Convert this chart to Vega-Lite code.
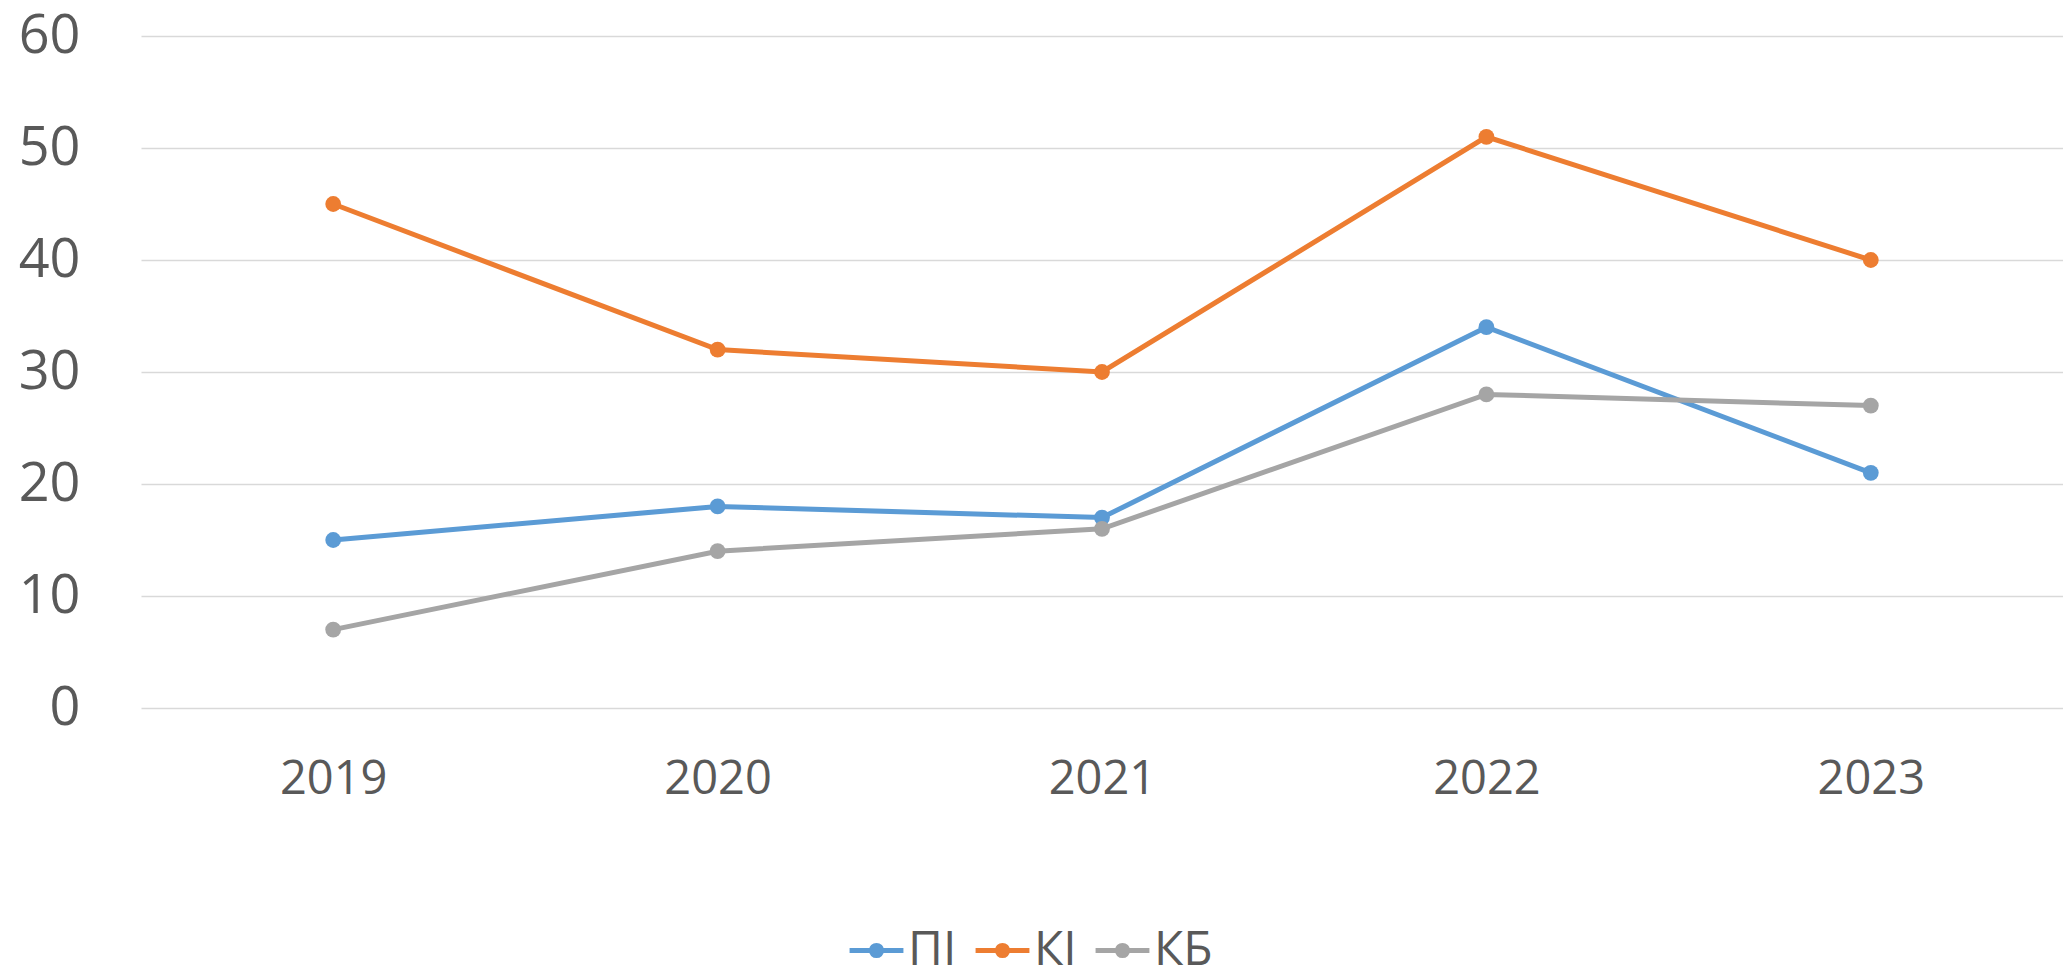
{
  "$schema": "https://vega.github.io/schema/vega-lite/v6.json",
  "width": 1922,
  "height": 672,
  "autosize": {"type": "none"},
  "padding": {"left": 141, "top": 36, "right": 0, "bottom": 271},
  "background": "white",
  "config": {
    "view": {"stroke": null},
    "font": "Open Sans"
  },
  "data": {
    "values": [
      {"year": "2019", "series": "ПІ", "value": 15},
      {"year": "2020", "series": "ПІ", "value": 18},
      {"year": "2021", "series": "ПІ", "value": 17},
      {"year": "2022", "series": "ПІ", "value": 34},
      {"year": "2023", "series": "ПІ", "value": 21},
      {"year": "2019", "series": "КІ", "value": 45},
      {"year": "2020", "series": "КІ", "value": 32},
      {"year": "2021", "series": "КІ", "value": 30},
      {"year": "2022", "series": "КІ", "value": 51},
      {"year": "2023", "series": "КІ", "value": 40},
      {"year": "2019", "series": "КБ", "value": 7},
      {"year": "2020", "series": "КБ", "value": 14},
      {"year": "2021", "series": "КБ", "value": 16},
      {"year": "2022", "series": "КБ", "value": 28},
      {"year": "2023", "series": "КБ", "value": 27}
    ]
  },
  "mark": {"type": "line", "strokeWidth": 5, "point": {"filled": true, "size": 250, "opacity": 1}},
  "encoding": {
    "x": {
      "field": "year", "type": "ordinal",
      "scale": {"type": "point", "padding": 0.5},
      "axis": {"title": null, "labelAngle": 0, "domain": false, "ticks": false, "grid": false,
               "labelFontSize": 47, "labelColor": "#595959", "labelPadding": 48, "labelFont": "Open Sans"}
    },
    "y": {
      "field": "value", "type": "quantitative",
      "scale": {"domain": [0, 60], "nice": false},
      "axis": {"title": null, "values": [0, 10, 20, 30, 40, 50, 60], "domain": false, "ticks": false,
               "grid": true, "gridColor": "#D9D9D9", "gridWidth": 1.5,
               "labelFontSize": 54, "labelColor": "#595959", "labelPadding": 61, "labelFont": "Open Sans"}
    },
    "color": {
      "field": "series", "type": "nominal",
      "scale": {"domain": ["ПІ", "КІ", "КБ"], "range": ["#5B9BD5", "#ED7D31", "#A5A5A5"]},
      "legend": {
        "title": null, "orient": "none", "legendX": 706, "legendY": 885,
        "direction": "horizontal", "columns": 3, "gridAlign": "none",
        "symbolType": "M-1,0H1M0.19,0A0.19,0.19,0,1,1,-0.19,0A0.19,0.19,0,1,1,0.19,0Z",
        "symbolSize": 2900, "symbolStrokeWidth": 5, "symbolOpacity": 1,
        "labelFontSize": 48, "labelColor": "#595959", "labelOffset": 2, "columnPadding": 8,
        "labelFont": "Open Sans"
      }
    }
  }
}
